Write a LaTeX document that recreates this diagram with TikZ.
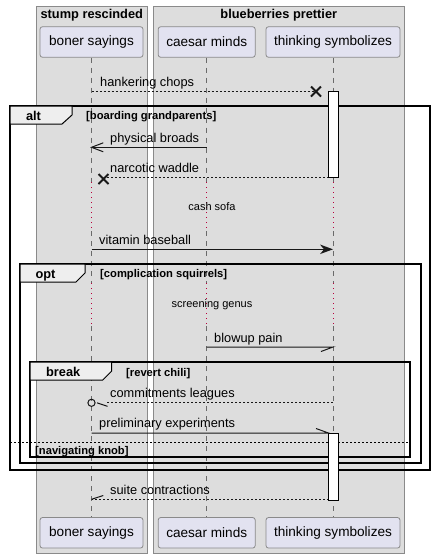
\documentclass[tikz,border=0pt]{standalone}
\usepackage{fontspec}
\setmainfont{Liberation Sans}
\usetikzlibrary{arrows.meta}
\definecolor{boxgray}{HTML}{DDDDDD}
\definecolor{boxline}{HTML}{8A8A8A}
\definecolor{partfill}{HTML}{E2E2F0}
\definecolor{tabfill}{HTML}{EEEEEE}
\definecolor{lifegray}{HTML}{6A6A6A}
\definecolor{delayred}{HTML}{B8003C}
\definecolor{ink}{HTML}{181818}
\tikzset{
  grp/.style={draw=boxline, fill=boxgray, line width=0.9pt},
  grptitle/.style={inner sep=0pt, anchor=base, font=\fontsize{12.8}{15}\selectfont\bfseries},
  part/.style={draw=boxline, fill=partfill, rounded corners=2.5pt, line width=0.8pt,
    minimum height=30.5pt, inner sep=0pt, font=\fontsize{13.6}{16}\selectfont},
  lifeline/.style={draw=lifegray, dash pattern=on 5pt off 5pt, line width=0.9pt},
  delayline/.style={draw=delayred, dash pattern=on 1pt off 4pt, line width=1pt},
  msg/.style={draw=ink, line width=1pt},
  dmsg/.style={draw=ink, line width=1pt, dash pattern=on 2pt off 2pt},
  msglabel/.style={inner sep=0pt, anchor=base west, font=\fontsize{12.8}{15}\selectfont},
  delaylabel/.style={inner sep=0pt, anchor=base, font=\fontsize{11}{13}\selectfont},
  frame/.style={draw=black, line width=1.5pt},
  tab/.style={draw=black, fill=tabfill, line width=1pt},
  tablabel/.style={inner sep=0pt, anchor=base, font=\fontsize{12.8}{15}\selectfont\bfseries},
  guard/.style={inner sep=0pt, anchor=base west, font=\fontsize{11.2}{13}\selectfont\bfseries},
  actbox/.style={draw=black, fill=white, line width=1pt},
  xmark/.style={draw=ink, line width=1.8pt},
}
\begin{document}
\begin{tikzpicture}[x=1pt,y=-1pt]
\useasboundingbox (0,0) rectangle (435,558);
% group boxes
\draw[grp] (36.3,6) rectangle (147.3,553);
\draw[grp] (153.3,6) rectangle (404.3,553);
\node[grptitle] (t1) at (91.8,18.3) {stump rescinded};
\node[grptitle] (t2) at (278.8,18.3) {blueberries prettier};
% participants
\node[part, minimum width=103pt] (pA) at (91.5,42) {boner sayings};
\node[part, minimum width=97pt] (pB) at (206.7,42) {caesar minds};
\node[part, minimum width=134pt] (pC) at (333,42) {thinking symbolizes};
\node[part, minimum width=103pt] (pAb) at (91.5,532.8) {boner sayings};
\node[part, minimum width=97pt] (pBb) at (206.7,532.8) {caesar minds};
\node[part, minimum width=134pt] (pCb) at (333,532.8) {thinking symbolizes};
% lifeline segments
\foreach \p/\x in {A/91.5,B/206.7,C/333}{
  \coordinate (d\p1) at (\x,182);
  \coordinate (d\p2) at (\x,231);
  \coordinate (d\p3) at (\x,283);
  \coordinate (d\p4) at (\x,326);
  \draw[lifeline] (p\p.south) -- (d\p1);
  \draw[delayline] (d\p1) -- (d\p2);
  \draw[lifeline] (d\p2) -- (d\p3);
  \draw[delayline] (d\p3) -- (d\p4);
  \draw[lifeline] (d\p4) -- (p\p b.north);
}
% delay labels
\node[delaylabel] (dl1) at (212,210.7) {cash sofa};
\node[delaylabel] (dl2) at (212,307) {screening genus};
% frames
\draw[frame] (10,106) rectangle (430,470);
\draw[frame] (20,264) rectangle (421,463);
\draw[frame] (30,362) rectangle (410,457);
\draw[tab] (10,106) -- (72,106) -- (72,115) -- (62,124) -- (10,124) -- cycle;
\draw[tab] (20,264) -- (85,264) -- (85,273) -- (76,282) -- (20,282) -- cycle;
\draw[tab] (30,362) -- (111.7,362) -- (111.7,371) -- (102.7,380) -- (30,380) -- cycle;
\node[tablabel] (fa) at (33.5,120) {alt};
\node[tablabel] (fo) at (45.5,278) {opt};
\node[tablabel] (fb) at (63.2,376.5) {break};
\node[guard] (g1) at (86,119) {[boarding grandparents]};
\node[guard] (g2) at (100,277) {[complication squirrels]};
\node[guard] (g3) at (126,376) {[revert chili]};
\draw[draw=black, line width=1pt, dash pattern=on 2pt off 2pt] (10,442.5) -- (408,442.5);
\node[guard] (g4) at (35,454.5) {[navigating knob]};
% messages
% 1 hankering chops
\coordinate (m1s) at (91.5,91.5);
\coordinate (m1e) at (316,91.5);
\draw[dmsg] (m1s) -- (m1e);
\draw[xmark] (311,86.5) -- (321,96.5) (311,96.5) -- (321,86.5);
\node[msglabel] (l1) at (100,86.5) {hankering chops};
% 2 physical broads
\coordinate (m2s) at (206.7,147.3);
\coordinate (m2e) at (91.5,147.3);
\draw[msg] (m2s) -- (m2e);
\draw[msg] (103.3,142.8) -- (m2e) -- (103.3,151.8);
\node[msglabel] (l2) at (110,142.3) {physical broads};
% 3 narcotic waddle
\coordinate (m3s) at (328.5,177.3);
\coordinate (m3e) at (103.5,177.3);
\draw[dmsg] (m3s) -- (m3e);
\draw[xmark] (98.5,174) -- (108.5,184) (98.5,184) -- (108.5,174);
\node[msglabel] (l3) at (110,172.5) {narcotic waddle};
% 4 vitamin baseball
\coordinate (m4s) at (91.5,249.3);
\coordinate (m4e) at (333,249.3);
\draw[msg] (m4s) -- (324,249.3);
\fill[ink] (m4e) -- (320,244.5) -- (324,249.3) -- (320,254.1) -- cycle;
\node[msglabel] (l4) at (99,244.3) {vitamin baseball};
% 5 blowup pain
\coordinate (m5s) at (206.7,347);
\coordinate (m5e) at (333,347);
\draw[msg] (m5s) -- (m5e) -- (321,351.5);
\node[msglabel] (l5) at (214,342.3) {blowup pain};
% 6 commitments leagues
\coordinate (m6s) at (333,402.8);
\coordinate (m6e) at (91.5,402.8);
\draw[dmsg] (m6s) -- (107,402.8);
\draw[msg] (97,402.8) -- (107.5,406.3);
\draw[msg] (m6e) circle[radius=3.6];
\node[msglabel] (l6) at (110,397.8) {commitments leagues};
% 7 preliminary experiments
\coordinate (m7s) at (91.5,433);
\coordinate (m7e) at (328.5,433);
\draw[msg] (m7s) -- (m7e) -- (316,428.5);
\node[msglabel] (l7) at (99,427.8) {preliminary experiments};
% 8 suite contractions
\coordinate (m8s) at (328.5,499.3);
\coordinate (m8e) at (91.5,499.3);
\draw[dmsg] (m8s) -- (m8e);
\draw[msg] (m8e) -- (103.3,495.5);
\node[msglabel] (l8) at (110,494.3) {suite contractions};
% activations
\draw[actbox] (328.5,91.5) rectangle (338.3,177.3);
\draw[actbox] (328.5,433) rectangle (338.3,500);
\end{tikzpicture}
\end{document}
